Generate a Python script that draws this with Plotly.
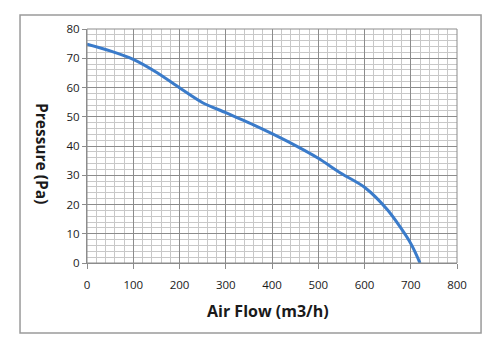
import plotly.graph_objects as go

air_flow = [0, 50, 100, 150, 200, 250, 300, 360, 400, 450, 500, 550, 600, 650, 700, 720]
pressure = [74.8, 72.5, 69.6, 65.2, 59.9, 54.8, 51.4, 47.2, 44.2, 40.2, 35.8, 30.6, 25.9, 18.1, 6.7, 0]

x_ticks = [0, 100, 200, 300, 400, 500, 600, 700, 800]
y_ticks = [0, 10, 20, 30, 40, 50, 60, 70, 80]

fig = go.Figure()
fig.add_trace(go.Scatter(
    x=air_flow, y=pressure, mode="lines",
    line=dict(color="#3a7bca", width=3, shape="spline", smoothing=0.8),
    showlegend=False, hoverinfo="skip",
))

font_fam = "Open Sans, Liberation Sans, sans-serif"
fig.update_layout(
    width=500, height=351,
    margin=dict(l=87, r=43, t=29, b=88),
    paper_bgcolor="white", plot_bgcolor="white",
    xaxis=dict(
        range=[0, 800], tickvals=x_ticks, showgrid=True, gridcolor="#8c8c8c", gridwidth=1,
        minor=dict(dtick=20, tick0=0, showgrid=True, gridcolor="#c8c8c8", gridwidth=1),
        showline=True, linecolor="#8c8c8c", linewidth=1,
        ticks="outside", ticklen=5, tickcolor="#8c8c8c",
        tickfont=dict(family=font_fam, size=11.5, color="#1a1a1a"),
        zeroline=False, fixedrange=True, ticklabelstandoff=6,
    ),
    yaxis=dict(
        range=[0, 80], tickvals=y_ticks, showgrid=True, gridcolor="#8c8c8c", gridwidth=1,
        minor=dict(dtick=2, tick0=0, showgrid=True, gridcolor="#c8c8c8", gridwidth=1),
        showline=True, linecolor="#8c8c8c", linewidth=1,
        ticks="outside", ticklen=4, tickcolor="#8c8c8c",
        tickfont=dict(family=font_fam, size=11.5, color="#1a1a1a"),
        zeroline=False, fixedrange=True,
    ),
    shapes=[
        dict(type="rect", xref="paper", yref="paper",
             x0=-0.181, x1=1.065, y0=-0.299, y1=1.06,
             line=dict(color="#9a9a9a", width=1.5), layer="below"),
        dict(type="rect", xref="paper", yref="paper",
             x0=0, x1=1, y0=0, y1=1,
             line=dict(color="#8c8c8c", width=1)),
    ],
    annotations=[
        dict(text="<b>Air Flow (m3/h)</b>", xref="paper", yref="paper",
             x=(268 - 87) / 370, y=(263 - 311) / 234, showarrow=False,
             font=dict(family=font_fam, size=16, color="#1a1a1a"),
             xanchor="center", yanchor="middle"),
        dict(text="<b>Pressure (Pa)</b>", xref="paper", yref="paper",
             x=(42 - 87) / 370, y=(263 - 153) / 234, showarrow=False,
             textangle=90,
             font=dict(family=font_fam, size=15.5, color="#1a1a1a"),
             xanchor="center", yanchor="middle"),
    ],
)

fig.write_html("out.html")
